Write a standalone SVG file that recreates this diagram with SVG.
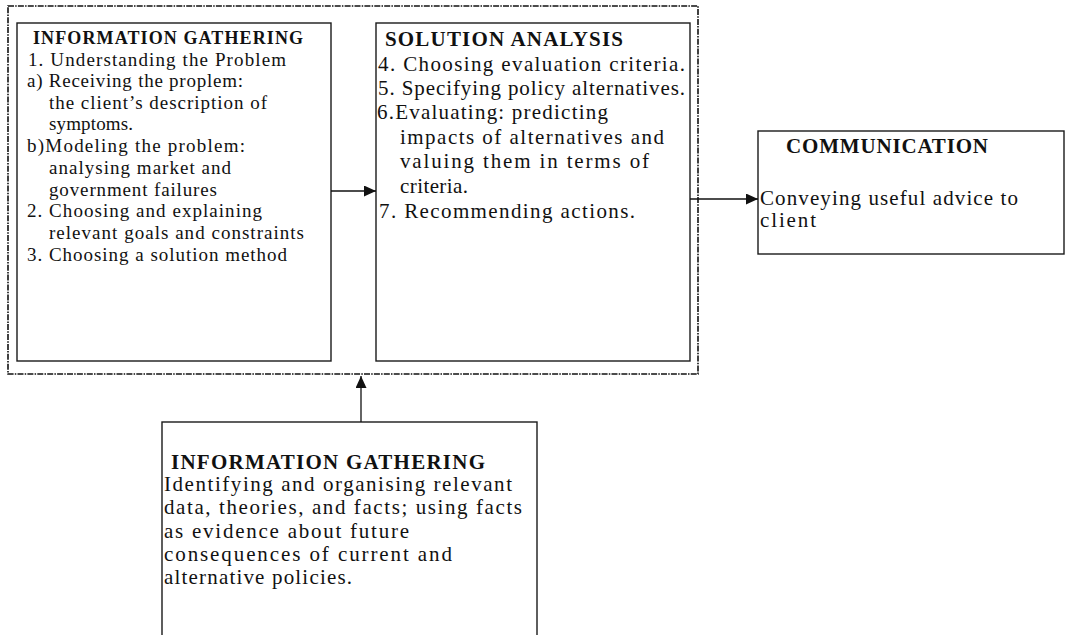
<svg xmlns="http://www.w3.org/2000/svg" width="1066" height="635" viewBox="0 0 1066 635">
<style>
.box{fill:#fff;stroke:#1a1a1a;stroke-width:1.4}
.frame{fill:none;stroke:#111;stroke-width:1.6;stroke-dasharray:6 1.2 1.5 1.2}
.conn{fill:none;stroke:#111;stroke-width:1.3}
.h{font-family:"Liberation Serif","Times New Roman",serif;font-weight:bold;fill:#111}
.t{font-family:"Liberation Serif","Times New Roman",serif;fill:#111}
.hs{font-size:18px}
.s17{font-size:19px}
.s20{font-size:21px}
</style>
<defs>
<marker id="arr" markerUnits="userSpaceOnUse" markerWidth="13" markerHeight="11" refX="12" refY="5.5" orient="auto">
<path d="M0,0 L12,5.5 L0,11 Z" fill="#111"/>
</marker>
</defs>
<rect id="frame" class="frame" x="8" y="6" width="690" height="368"/>
<g id="info-gathering-1">
<rect class="box" x="17" y="23" width="314" height="338"/>
<text class="h hs" x="33" y="44" textLength="270" lengthAdjust="spacing">INFORMATION GATHERING</text>
<text class="t s17" x="28" y="65.5" textLength="258" lengthAdjust="spacing">1. Understanding the Problem</text>
<text class="t s17" x="27" y="87" textLength="216" lengthAdjust="spacing">a) Receiving the proplem:</text>
<text class="t s17" x="49" y="108.7" textLength="218" lengthAdjust="spacing">the client’s description of</text>
<text class="t s17" x="49" y="130.4" textLength="84" lengthAdjust="spacing">symptoms.</text>
<text class="t s17" x="27" y="152.1" textLength="218" lengthAdjust="spacing">b)Modeling the problem:</text>
<text class="t s17" x="49" y="173.8" textLength="182" lengthAdjust="spacing">analysing market and</text>
<text class="t s17" x="49" y="195.5" textLength="168" lengthAdjust="spacing">government failures</text>
<text class="t s17" x="27" y="217.2" textLength="235" lengthAdjust="spacing">2. Choosing and explaining</text>
<text class="t s17" x="49" y="238.9" textLength="255" lengthAdjust="spacing">relevant goals and constraints</text>
<text class="t s17" x="27" y="260.6" textLength="260" lengthAdjust="spacing">3. Choosing a solution method</text>
</g>
<g id="solution-analysis">
<rect class="box" x="376" y="23" width="314" height="338"/>
<text class="h s20" x="385" y="46" textLength="238" lengthAdjust="spacing">SOLUTION ANALYSIS</text>
<text class="t s20" x="378" y="71" textLength="307" lengthAdjust="spacing">4. Choosing evaluation criteria.</text>
<text class="t s20" x="378" y="95" textLength="307" lengthAdjust="spacing">5. Specifying policy alternatives.</text>
<text class="t s20" x="377" y="119" textLength="231" lengthAdjust="spacing">6.Evaluating: predicting</text>
<text class="t s20" x="400" y="144" textLength="264" lengthAdjust="spacing">impacts of alternatives and</text>
<text class="t s20" x="400" y="168" textLength="249" lengthAdjust="spacing">valuing them in terms of</text>
<text class="t s20" x="400" y="193" textLength="68" lengthAdjust="spacing">criteria.</text>
<text class="t s20" x="379" y="218" textLength="256" lengthAdjust="spacing">7. Recommending actions.</text>
</g>
<g id="communication">
<rect class="box" x="758" y="131" width="306" height="123"/>
<text class="h s20" x="786" y="153" textLength="202" lengthAdjust="spacing">COMMUNICATION</text>
<text class="t s20" x="760" y="205" textLength="258" lengthAdjust="spacing">Conveying useful advice to</text>
<text class="t s20" x="760" y="227" textLength="56" lengthAdjust="spacing">client</text>
</g>
<g id="info-gathering-2">
<rect class="box" x="162" y="422" width="375" height="240"/>
<text class="h s20" x="171" y="469" textLength="314" lengthAdjust="spacing">INFORMATION GATHERING</text>
<text class="t s20" x="164" y="491" textLength="348" lengthAdjust="spacing">Identifying and organising relevant</text>
<text class="t s20" x="164" y="514.3" textLength="358" lengthAdjust="spacing">data, theories, and facts; using facts</text>
<text class="t s20" x="164" y="537.6" textLength="245" lengthAdjust="spacing">as evidence about future</text>
<text class="t s20" x="164" y="561" textLength="288" lengthAdjust="spacing">consequences of current and</text>
<text class="t s20" x="164" y="584.3" textLength="188" lengthAdjust="spacing">alternative policies.</text>
</g>
<g id="connectors">
<line class="conn" x1="331" y1="191" x2="376" y2="191" marker-end="url(#arr)"/>
<line class="conn" x1="690" y1="199" x2="758" y2="199" marker-end="url(#arr)"/>
<line class="conn" x1="361" y1="422" x2="361" y2="376" marker-end="url(#arr)"/>
</g>
</svg>
